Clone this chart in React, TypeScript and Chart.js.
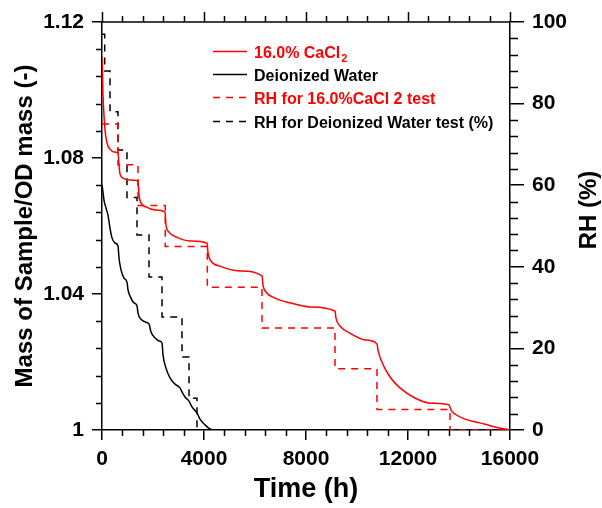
import React, { useEffect, useRef } from 'react';
import { Chart, registerables } from 'chart.js';

Chart.register(...registerables);

// ---- data ----
const caclTime = [0, 20, 39, 78, 118, 196, 314, 471, 627, 667, 706, 824, 1098, 1412, 1451, 1529, 1726, 2078, 2471, 2510, 2627, 2902, 3451, 4118, 4157, 4275, 4627, 5412, 6275, 6314, 6431, 6784, 7373, 8157, 9137, 9176, 9333, 9725, 10314, 10784, 10824, 10941, 11294, 11686, 12275, 12863, 13608, 13686, 13843, 14235, 14824, 15412, 16000];
const caclMass = [1.1097, 1.1044, 1.0985, 1.0926, 1.0882, 1.0844, 1.0826, 1.0818, 1.0815, 1.0779, 1.0753, 1.0741, 1.0735, 1.0732, 1.0691, 1.0668, 1.0656, 1.0647, 1.0641, 1.0603, 1.0582, 1.0568, 1.0556, 1.055, 1.0521, 1.0497, 1.0482, 1.0468, 1.0453, 1.0426, 1.0406, 1.0388, 1.0374, 1.0362, 1.035, 1.0329, 1.0306, 1.0285, 1.0265, 1.0253, 1.0235, 1.0206, 1.0156, 1.0124, 1.0094, 1.0079, 1.0074, 1.0059, 1.0047, 1.0032, 1.0021, 1.0009, 1.0];

const waterTime = [0, 39, 78, 157, 235, 314, 392, 510, 627, 667, 745, 863, 980, 1020, 1137, 1255, 1373, 1412, 1529, 1686, 1843, 1922, 2078, 2235, 2353, 2392, 2510, 2667, 2863, 3059, 3137, 3255, 3412, 3529, 3725, 3843, 4039, 4235, 4353];
const waterMass = [1.0721, 1.07, 1.0676, 1.0653, 1.0632, 1.0594, 1.0565, 1.055, 1.0541, 1.0506, 1.0471, 1.0447, 1.0435, 1.0412, 1.0388, 1.0374, 1.0365, 1.0344, 1.0326, 1.0318, 1.0312, 1.0288, 1.0271, 1.0262, 1.0256, 1.0221, 1.0182, 1.0153, 1.0135, 1.0124, 1.0112, 1.0097, 1.0085, 1.0068, 1.005, 1.0032, 1.0015, 1.0003, 1.0];

// RH step levels: each level holds from its time until the next time
const caclRhTime = [0, 627, 1412, 2480, 4130, 6275, 9137, 10784, 13650, 16000];
const caclRh = [75, 65, 55, 45, 35, 25, 15, 5, 0, 0];

const waterRhTime = [0, 106, 314, 627, 980, 1373, 1843, 2353, 3137, 3412, 3725];
const waterRh = [97, 88, 78, 68.6, 57, 47.8, 37.5, 27.7, 17.9, 7.8, 0];

const seriesLabels = ['16.0% CaCl₂', 'Deionized Water', 'RH for 16.0%CaCl 2 test', 'RH for Deionized Water test (%)'];

// ---- axes ----
const timeTicks = [0, 4000, 8000, 12000, 16000];
const massTicks = [1, 1.04, 1.08, 1.12];
const rhTicks = [0, 20, 40, 60, 80, 100];
const timeMinorStep = 800;
const massMinorStep = 0.008;
const rhMinorStep = 4;

const xTitle = 'Time (h)';
const yTitle = 'Mass of Sample/OD mass (-)';
const y2Title = 'RH (%)';

const FONT = 'Arial, "Liberation Sans", sans-serif';
const RED = '#ff0000';
const BLACK = '#000000';

const pts = (xs: number[], ys: number[]) => xs.map((x, i) => ({ x, y: ys[i] }));

const decorPlugin = {
  id: 'decor',
  afterDraw(chart: any) {
    const { ctx, chartArea: a, scales } = chart;
    const sx = scales.x, sy = scales.y, sy2 = scales.y2;
    ctx.save();
    ctx.strokeStyle = BLACK;
    ctx.lineWidth = 1.5;
    ctx.setLineDash([]);
    // top frame line
    ctx.beginPath();
    ctx.moveTo(a.left, a.top);
    ctx.lineTo(a.right, a.top);
    ctx.stroke();

    const isMajor = (v: number, list: number[], eps: number) => list.some((m) => Math.abs(m - v) < eps);

    // x minor ticks (bottom) + all ticks on top
    const nX = Math.round((sx.max - sx.min) / timeMinorStep);
    ctx.beginPath();
    for (let i = 0; i <= nX; i++) {
      const v = sx.min + i * timeMinorStep;
      const p = Math.round(sx.getPixelForValue(v)) + 0.5;
      const major = isMajor(v, timeTicks, 1);
      if (!major) {
        ctx.moveTo(p, a.bottom);
        ctx.lineTo(p, a.bottom + 6);
      }
      ctx.moveTo(p, a.top);
      ctx.lineTo(p, a.top - (major ? 10 : 6));
    }
    // y minor ticks (left)
    const nY = Math.round((sy.max - sy.min) / massMinorStep);
    for (let i = 0; i <= nY; i++) {
      const v = sy.min + i * massMinorStep;
      if (isMajor(v, massTicks, 1e-6)) continue;
      const p = Math.round(sy.getPixelForValue(v)) + 0.5;
      ctx.moveTo(a.left, p);
      ctx.lineTo(a.left - 6, p);
    }
    // y2 minor ticks (right)
    const nY2 = Math.round((sy2.max - sy2.min) / rhMinorStep);
    for (let i = 0; i <= nY2; i++) {
      const v = sy2.min + i * rhMinorStep;
      if (isMajor(v, rhTicks, 1e-6)) continue;
      const p = Math.round(sy2.getPixelForValue(v)) + 0.5;
      ctx.moveTo(a.right, p);
      ctx.lineTo(a.right + 8, p);
    }
    ctx.stroke();

    // axis titles
    ctx.fillStyle = BLACK;
    ctx.textBaseline = 'alphabetic';
    ctx.textAlign = 'center';
    ctx.font = `bold 27px ${FONT}`;
    ctx.fillText(xTitle, (a.left + a.right) / 2, a.bottom + 67);

    ctx.font = `bold 24px ${FONT}`;
    ctx.save();
    ctx.translate(a.left - 70, (a.top + a.bottom) / 2);
    ctx.rotate(-Math.PI / 2);
    ctx.fillText(yTitle, 0, 0);
    ctx.restore();

    ctx.save();
    ctx.translate(a.right + 86, a.top + 188);
    ctx.rotate(-Math.PI / 2);
    ctx.fillText(y2Title, 0, 0);
    ctx.restore();

    // legend
    const lx = a.left + 111;
    const ly = a.top + 28.5;
    const gap = 23.4;
    chart.data.datasets.forEach((ds: any, i: number) => {
      const y = Math.round(ly + i * gap) + 0.5;
      ctx.strokeStyle = ds.borderColor;
      ctx.lineWidth = 1.5;
      ctx.setLineDash(ds.borderDash || []);
      ctx.beginPath();
      ctx.moveTo(lx, y);
      ctx.lineTo(lx + 34, y);
      ctx.stroke();
      ctx.setLineDash([]);
      ctx.fillStyle = ds.borderColor;
      ctx.textAlign = 'left';
      ctx.font = `bold 16px ${FONT}`;
      const label: string = ds.label;
      const tx = lx + 41;
      const ty = y + 6;
      if (label.includes('₂')) {
        const base = label.replace('₂', '');
        ctx.fillText(base, tx, ty);
        const w = ctx.measureText(base).width;
        ctx.font = `bold 11px ${FONT}`;
        ctx.fillText('2', tx + w + 1, ty + 4);
      } else {
        ctx.fillText(label, tx, ty);
      }
    });
    ctx.restore();
  },
};

export default function App() {
  const ref = useRef<HTMLCanvasElement | null>(null);
  useEffect(() => {
    if (!ref.current) return;
    const tickFont = { family: FONT, size: 21, weight: 'bold' as const };
    const chart = new Chart(ref.current, {
      type: 'line',
      data: {
        datasets: [
          { label: seriesLabels[0], data: pts(caclTime, caclMass), borderColor: RED, borderWidth: 1.5, pointRadius: 0, yAxisID: 'y', cubicInterpolationMode: 'monotone' },
          { label: seriesLabels[1], data: pts(waterTime, waterMass), borderColor: BLACK, borderWidth: 1.5, pointRadius: 0, yAxisID: 'y', cubicInterpolationMode: 'monotone' },
          { label: seriesLabels[2], data: pts(caclRhTime, caclRh), borderColor: RED, borderWidth: 1.5, borderDash: [7, 6], pointRadius: 0, yAxisID: 'y2', stepped: true },
          { label: seriesLabels[3], data: pts(waterRhTime, waterRh), borderColor: BLACK, borderWidth: 1.5, borderDash: [7, 6], pointRadius: 0, yAxisID: 'y2', stepped: true },
        ],
      },
      options: {
        responsive: false,
        animation: false,
        devicePixelRatio: 1,
        layout: { padding: { top: 22, left: 0, right: 0, bottom: 0 } },
        plugins: { legend: { display: false }, tooltip: { enabled: false } },
        scales: {
          x: {
            type: 'linear',
            position: 'bottom',
            min: 0,
            max: 16000,
            afterBuildTicks: (s: any) => { s.ticks = timeTicks.map((v) => ({ value: v })); },
            afterFit: (s: any) => { s.height = 78; },
            ticks: { font: tickFont, color: BLACK, padding: 7, maxRotation: 0, autoSkip: false, callback: (v: any) => String(v) },
            grid: { drawOnChartArea: false, drawTicks: true, tickLength: 10, color: BLACK, lineWidth: 1.5 },
            border: { display: true, color: BLACK, width: 1.5 },
          },
          y: {
            type: 'linear',
            position: 'left',
            min: 1,
            max: 1.12,
            afterBuildTicks: (s: any) => { s.ticks = massTicks.map((v) => ({ value: v })); },
            afterFit: (s: any) => { s.width = 102; },
            ticks: { font: tickFont, color: BLACK, padding: 8, autoSkip: false, callback: (v: any) => String(Number(Number(v).toFixed(2))) },
            grid: { drawOnChartArea: false, drawTicks: true, tickLength: 10, color: BLACK, lineWidth: 1.5 },
            border: { display: true, color: BLACK, width: 1.5 },
          },
          y2: {
            type: 'linear',
            position: 'right',
            min: 0,
            max: 100,
            afterBuildTicks: (s: any) => { s.ticks = rhTicks.map((v) => ({ value: v })); },
            afterFit: (s: any) => { s.width = 92; },
            ticks: { font: tickFont, color: BLACK, padding: 8, autoSkip: false, callback: (v: any) => String(v) },
            grid: { drawOnChartArea: false, drawTicks: true, tickLength: 14, color: BLACK, lineWidth: 1.5 },
            border: { display: true, color: BLACK, width: 1.5 },
          },
        },
      },
      plugins: [decorPlugin],
    });
    return () => chart.destroy();
  }, []);
  return (
    <div style={{ position: 'absolute', left: 0, top: 0, width: 602, height: 508, background: '#fff' }}>
      <canvas ref={ref} width={602} height={508} style={{ display: 'block' }} />
    </div>
  );
}
